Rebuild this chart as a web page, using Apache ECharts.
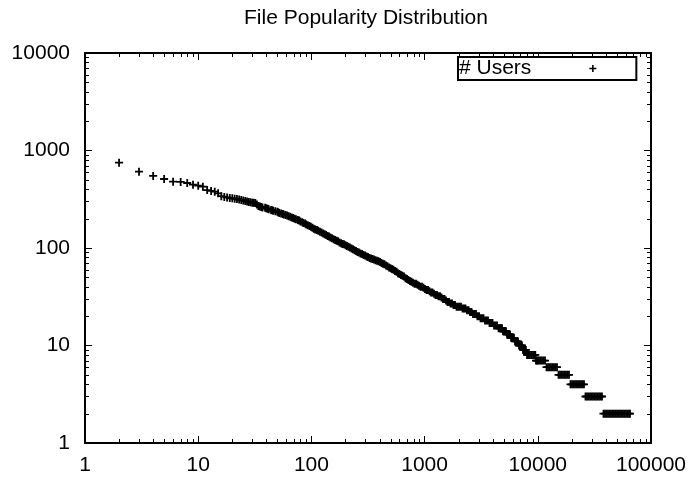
<!DOCTYPE html>
<html>
<head>
<meta charset="utf-8">
<title>File Popularity Distribution</title>
<script src="https://cdn.jsdelivr.net/npm/echarts@6/dist/echarts.min.js"></script>
<style>
html, body { margin: 0; padding: 0; background: #fff; }
#chart { width: 691px; height: 478px; }
</style>
</head>
<body>
<div id="chart"></div>
<script>
// file rank (x) and number of users (y)
const ranks = [
  2, 3, 4, 5, 6, 7, 8, 9, 10, 11, 12, 13, 14, 15, 16, 17, 18, 19, 20, 21, 22, 23, 24, 25, 26, 27, 28, 29, 30, 31, 32, 33, 34,
  35, 36, 37, 39, 40, 41, 42, 44, 45, 46, 48, 50, 51, 52, 54, 56, 57, 59, 61, 63, 65, 67, 69, 71, 73, 76, 78, 80, 83, 85, 88,
  90, 93, 96, 99, 102, 105, 108, 112, 115, 119, 123, 127, 131, 135, 139, 143, 147, 152, 157, 162, 167, 172, 177, 183, 188,
  194, 200, 206, 212, 219, 226, 233, 240, 248, 255, 263, 271, 280, 289, 298, 307, 316, 326, 336, 346, 357, 368, 380, 392,
  404, 416, 429, 442, 456, 470, 485, 500, 515, 531, 548, 565, 582, 600, 619, 638, 658, 678, 699, 720, 743, 766, 790, 815,
  840, 866, 892, 920, 948, 978, 1008, 1040, 1072, 1105, 1139, 1174, 1211, 1249, 1287, 1327, 1368, 1410, 1454, 1499, 1545,
  1593, 1643, 1694, 1746, 1800, 1856, 1914, 1973, 2034, 2097, 2162, 2229, 2298, 2369, 2442, 2518, 2596, 2677, 2760, 2845,
  2933, 3024, 3118, 3214, 3314, 3417, 3523, 3632, 3744, 3860, 3980, 4104, 4231, 4362,
  4500, 4640, 4735, 4830, 4930, 5030, 5135, 5240, 5345, 5450, 5565, 5680, 5800, 5920, 6040, 6160,
  6290, 6420, 6555, 6690, 6825, 6960, 7105, 7250, 7400, 7550, 7700, 7850,
  8030, 8200, 8365, 8530, 8800, 9070, 9285, 9500,
  9640, 9800, 10030, 10250, 10570, 10890, 11230, 11580,
  11940, 12310, 12690, 13080, 13490, 13900, 14330, 14780,
  15240, 15710, 16200, 16700, 17220, 17750, 18300, 18860,
  19440, 20050, 20670, 21310, 21970, 22650, 23350, 24080, 24820, 25590,
  26380, 27200, 28040, 28910, 29800, 30730, 31680, 32660, 33670, 34720, 35800, 36900,
  38040, 39220, 40440, 41690, 42980, 44320, 45690, 47100, 48570, 50080, 51630, 53220, 54870, 56570, 58320, 60140, 62000,
  63920, 65230
];
const users = [
  750, 606, 548, 510, 479, 476, 464, 446, 436, 426, 393, 385, 378, 364, 340, 334, 330, 326, 323, 320, 318, 314, 311, 307, 303, 300, 296, 294, 292, 291, 290, 280, 270,
  266, 263, 261, 258, 255, 252, 249, 246, 244, 241, 238, 235, 232, 229, 226, 223, 221, 218, 215, 212, 209, 206, 203, 200, 197, 194, 191, 187, 184, 181, 178,
  174, 171, 168, 165, 161, 158, 155, 153, 150, 147, 144, 141, 138, 136, 133, 131, 128, 126, 123, 121, 119, 117, 114, 112, 110,
  109, 107, 105, 103, 101, 99, 97, 95, 93, 91, 90, 88, 87, 85, 84, 82, 81, 79, 78, 77, 76, 75, 74, 73,
  72, 70, 69, 68, 66, 65, 63, 62, 61, 60, 58, 57, 55, 54, 53, 52, 51, 49, 48, 47, 46, 45, 44, 43,
  43, 42, 41, 40, 40, 39, 38, 37, 37, 36, 35, 35, 34, 33, 33, 32, 32, 31, 30, 30, 29,
  28, 28, 27, 27, 26, 26, 25, 25, 25, 25, 24, 24, 24, 23, 23, 22, 22, 21, 21, 21,
  20, 20, 19, 19, 19, 18, 18, 18, 17, 17, 17, 16, 16, 16,
  15, 15, 15, 15, 14, 14, 14, 14, 13, 13, 13, 13, 12, 12, 12, 12,
  11, 11, 11, 11, 10, 10, 10, 10, 9, 9, 9, 9,
  8, 8, 8, 8, 8, 8, 8, 8,
  7, 7, 7, 7, 7, 7, 7, 7,
  6, 6, 6, 6, 6, 6, 6, 6,
  5, 5, 5, 5, 5, 5, 5, 5,
  4, 4, 4, 4, 4, 4, 4, 4, 4, 4,
  3, 3, 3, 3, 3, 3, 3, 3, 3, 3, 3, 3,
  2, 2, 2, 2, 2, 2, 2, 2, 2, 2, 2, 2, 2, 2, 2, 2, 2,
  2, 2
];

const xDecades = [1, 10, 100, 1000, 10000, 100000];
const yDecades = [1, 10, 100, 1000, 10000];
const minorSteps = [2, 3, 4, 5, 6, 7, 8, 9];

const font = '"Liberation Sans", Arial, Helvetica, sans-serif';
// gnuplot style "+" point
const plus = 'path://M3.1,0h1.8v3.1h3.1v1.8h-3.1v3.1h-1.8v-3.1h-3.1v-1.8h3.1z';

const xMin = xDecades[0];
const xMax = xDecades[xDecades.length - 1];
const yMin = yDecades[0];
const yMax = yDecades[yDecades.length - 1];

// minor ticks at 2..9 inside every decade
function minors(decades) {
  const out = [];
  for (let i = 0; i < decades.length - 1; i++) {
    minorSteps.forEach((s) => out.push(s * decades[i]));
  }
  return out;
}
const xMinor = minors(xDecades);
const yMinor = minors(yDecades);

const chart = echarts.init(document.getElementById('chart'));

const axisBase = {
  type: 'log',
  logBase: 10,
  axisLine: { onZero: false, lineStyle: { color: '#000', width: 2 } },
  axisTick: { inside: true, length: 7, lineStyle: { color: '#000', width: 1 } },
  splitLine: { show: false }
};
const labelBase = {
  color: '#000',
  fontSize: 21,
  fontFamily: font,
  formatter: (v) => String(Math.round(v))
};

const tickLine = (x1, y1, x2, y2) => ({
  type: 'line',
  shape: { x1: x1, y1: y1, x2: x2, y2: y2 },
  style: { stroke: '#000', lineWidth: 1 }
});

const option = {
  animation: false,
  backgroundColor: '#fff',
  title: {
    text: 'File Popularity Distribution',
    left: 366,
    top: 8,
    textAlign: 'center',
    padding: 0,
    textStyle: { color: '#000', fontSize: 21, fontWeight: 'normal', fontFamily: font }
  },
  grid: { left: 85, right: 40, top: 53, bottom: 35 },
  legend: {
    data: ['# Users'],
    left: 458,
    top: 57,
    align: 'right',
    icon: plus,
    itemWidth: 7,
    itemHeight: 7,
    selectedMode: false,
    padding: [1, 40, 1, 1],
    borderColor: '#000',
    borderWidth: 2,
    borderRadius: 0,
    backgroundColor: '#fff',
    textStyle: { color: '#000', fontSize: 21, fontFamily: font, lineHeight: 20, padding: [0, 53, 0, 0] }
  },
  xAxis: [
    Object.assign({}, axisBase, {
      position: 'bottom',
      min: xMin,
      max: xMax,
      axisLabel: Object.assign({}, labelBase, { margin: 12 })
    }),
    Object.assign({}, axisBase, {
      position: 'top',
      min: xMin,
      max: xMax,
      axisLabel: { show: false }
    })
  ],
  yAxis: [
    Object.assign({}, axisBase, {
      position: 'left',
      min: yMin,
      max: yMax,
      axisLabel: Object.assign({}, labelBase, { margin: 15 })
    }),
    Object.assign({}, axisBase, {
      position: 'right',
      min: yMin,
      max: yMax,
      axisLabel: { show: false }
    })
  ],
  series: [
    {
      name: '# Users',
      type: 'scatter',
      data: ranks.map((r, i) => [r, users[i]]),
      symbol: plus,
      symbolSize: 8,
      itemStyle: { color: '#000', opacity: 1 },
      emphasis: { disabled: true },
      silent: true
    },
    {
      // x minor ticks, bottom and top
      type: 'custom',
      silent: true,
      data: xMinor.map((v) => [v, yMin]),
      renderItem: (params, api) => {
        const b = api.coord([api.value(0), yMin]);
        const t = api.coord([api.value(0), yMax]);
        const x = Math.round(b[0]) + 0.5;
        return {
          type: 'group',
          children: [tickLine(x, b[1], x, b[1] - 4), tickLine(x, t[1], x, t[1] + 4)]
        };
      }
    },
    {
      // y minor ticks, left and right
      type: 'custom',
      silent: true,
      data: yMinor.map((v) => [xMin, v]),
      renderItem: (params, api) => {
        const l = api.coord([xMin, api.value(1)]);
        const r = api.coord([xMax, api.value(1)]);
        const y = Math.round(l[1]) + 0.5;
        return {
          type: 'group',
          children: [tickLine(l[0], y, l[0] + 4, y), tickLine(r[0], y, r[0] - 4, y)]
        };
      }
    }
  ]
};

chart.setOption(option);
</script>
</body>
</html>
